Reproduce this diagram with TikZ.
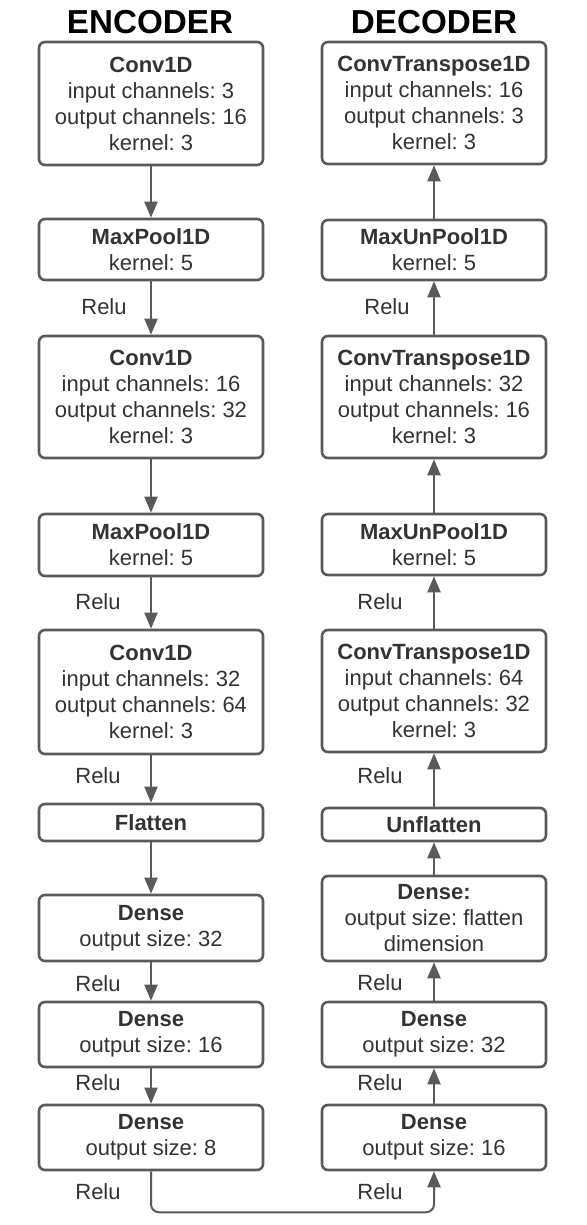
\documentclass[tikz,border=0pt]{standalone}
\usepackage{fontspec}
\setmainfont{Liberation Sans}
\frenchspacing
\usepackage{tikz}
\usetikzlibrary{arrows.meta,positioning}
\definecolor{boxgray}{HTML}{5A5A5A}
\definecolor{textgray}{HTML}{333333}
\tikzset{layerbox/.style={draw=boxgray,line width=1.3pt,rounded corners=3pt,minimum width=112pt,inner sep=0,align=center,text=textgray,font=\fontsize{11}{13}\selectfont},
    relulabel/.style={text=textgray,font=\fontsize{11}{13}\selectfont},
    flowarrow/.style={draw=boxgray,line width=1pt,-{Triangle[length=8pt,width=6.5pt]}},
    headline/.style={text=black,font=\bfseries\fontsize{16.6}{18}\selectfont}
}

\begin{document}
\begin{tikzpicture}[x=0.5pt,y=-0.5pt]

\useasboundingbox (0,0) rectangle (586,1225);

%% titles
\node (encTitle) at (150,22) [headline] {ENCODER};
\node (decTitle) at (434,22) [headline] {DECODER};

%% encoder column
\node (enc1) at (151,103.5) [layerbox,minimum height=61.5pt] {\textbf{Conv1D}\\input channels: 3\\output channels: 16\\kernel: 3};
\node (enc2) at (151,249.5) [layerbox,minimum height=30.5pt] {\textbf{MaxPool1D}\\kernel: 5};
\node (enc3) at (151,397) [layerbox,minimum height=61pt] {\textbf{Conv1D}\\input channels: 16\\output channels: 32\\kernel: 3};
\node (enc4) at (151,545) [layerbox,minimum height=31pt] {\textbf{MaxPool1D}\\kernel: 5};
\node (enc5) at (151,692) [layerbox,minimum height=62pt] {\textbf{Conv1D}\\input channels: 32\\output channels: 64\\kernel: 3};
\node (enc6) at (151,822.5) [layerbox,minimum height=18.5pt] {\textbf{Flatten}};
\node (enc7) at (151,928) [layerbox,minimum height=33pt] {\textbf{Dense}\\output size: 32};
\node (enc8) at (151,1034.5) [layerbox,minimum height=32.5pt] {\textbf{Dense}\\output size: 16};
\node (enc9) at (151,1137.5) [layerbox,minimum height=32.5pt] {\textbf{Dense}\\output size: 8};

\draw [flowarrow] (enc1) -- (enc2);
\draw [flowarrow] (enc2) -- (enc3);
\draw [flowarrow] (enc3) -- (enc4);
\draw [flowarrow] (enc4) -- (enc5);
\draw [flowarrow] (enc5) -- (enc6);
\draw [flowarrow] (enc6) -- (enc7);
\draw [flowarrow] (enc7) -- (enc8);
\draw [flowarrow] (enc8) -- (enc9);

%% decoder column
\node (dec1) at (434,103) [layerbox,minimum height=61pt] {\textbf{ConvTranspose1D}\\input channels: 16\\output channels: 3\\kernel: 3};
\node (dec2) at (434,250) [layerbox,minimum height=30pt] {\textbf{MaxUnPool1D}\\kernel: 5};
\node (dec3) at (434,397) [layerbox,minimum height=61pt] {\textbf{ConvTranspose1D}\\input channels: 32\\output channels: 16\\kernel: 3};
\node (dec4) at (434,544.5) [layerbox,minimum height=30.5pt] {\textbf{MaxUnPool1D}\\kernel: 5};
\node (dec5) at (434,691) [layerbox,minimum height=61pt] {\textbf{ConvTranspose1D}\\input channels: 64\\output channels: 32\\kernel: 3};
\node (dec6) at (434,824.5) [layerbox,minimum height=16.5pt] {\textbf{Unflatten}};
\node (dec7) at (434,918.5) [layerbox,minimum height=42.5pt] {\textbf{Dense:}\\output size: flatten\\dimension};
\node (dec8) at (434,1034.5) [layerbox,minimum height=32.5pt] {\textbf{Dense}\\output size: 32};
\node (dec9) at (434,1137.5) [layerbox,minimum height=32.5pt] {\textbf{Dense}\\output size: 16};

\draw [flowarrow] (dec2) -- (dec1);
\draw [flowarrow] (dec3) -- (dec2);
\draw [flowarrow] (dec4) -- (dec3);
\draw [flowarrow] (dec5) -- (dec4);
\draw [flowarrow] (dec6) -- (dec5);
\draw [flowarrow] (dec7) -- (dec6);
\draw [flowarrow] (dec8) -- (dec7);
\draw [flowarrow] (dec9) -- (dec8);

% latent link
\draw [flowarrow,rounded corners=4pt] (enc9.south) -- ++(0,41) -| (dec9.south);

%% activations
\node (encRelu1) at (104,307) [relulabel] {Relu};
\node (encRelu2) at (98,602) [relulabel] {Relu};
\node (encRelu3) at (98,776) [relulabel] {Relu};
\node (encRelu4) at (98,984) [relulabel] {Relu};
\node (encRelu5) at (98,1083) [relulabel] {Relu};
\node (encRelu6) at (98,1192) [relulabel] {Relu};

\node (decRelu1) at (387,307) [relulabel] {Relu};
\node (decRelu2) at (380,602) [relulabel] {Relu};
\node (decRelu3) at (380,776) [relulabel] {Relu};
\node (decRelu4) at (380,983) [relulabel] {Relu};
\node (decRelu5) at (380,1083) [relulabel] {Relu};
\node (decRelu6) at (380,1192) [relulabel] {Relu};

\end{tikzpicture}
\end{document}
